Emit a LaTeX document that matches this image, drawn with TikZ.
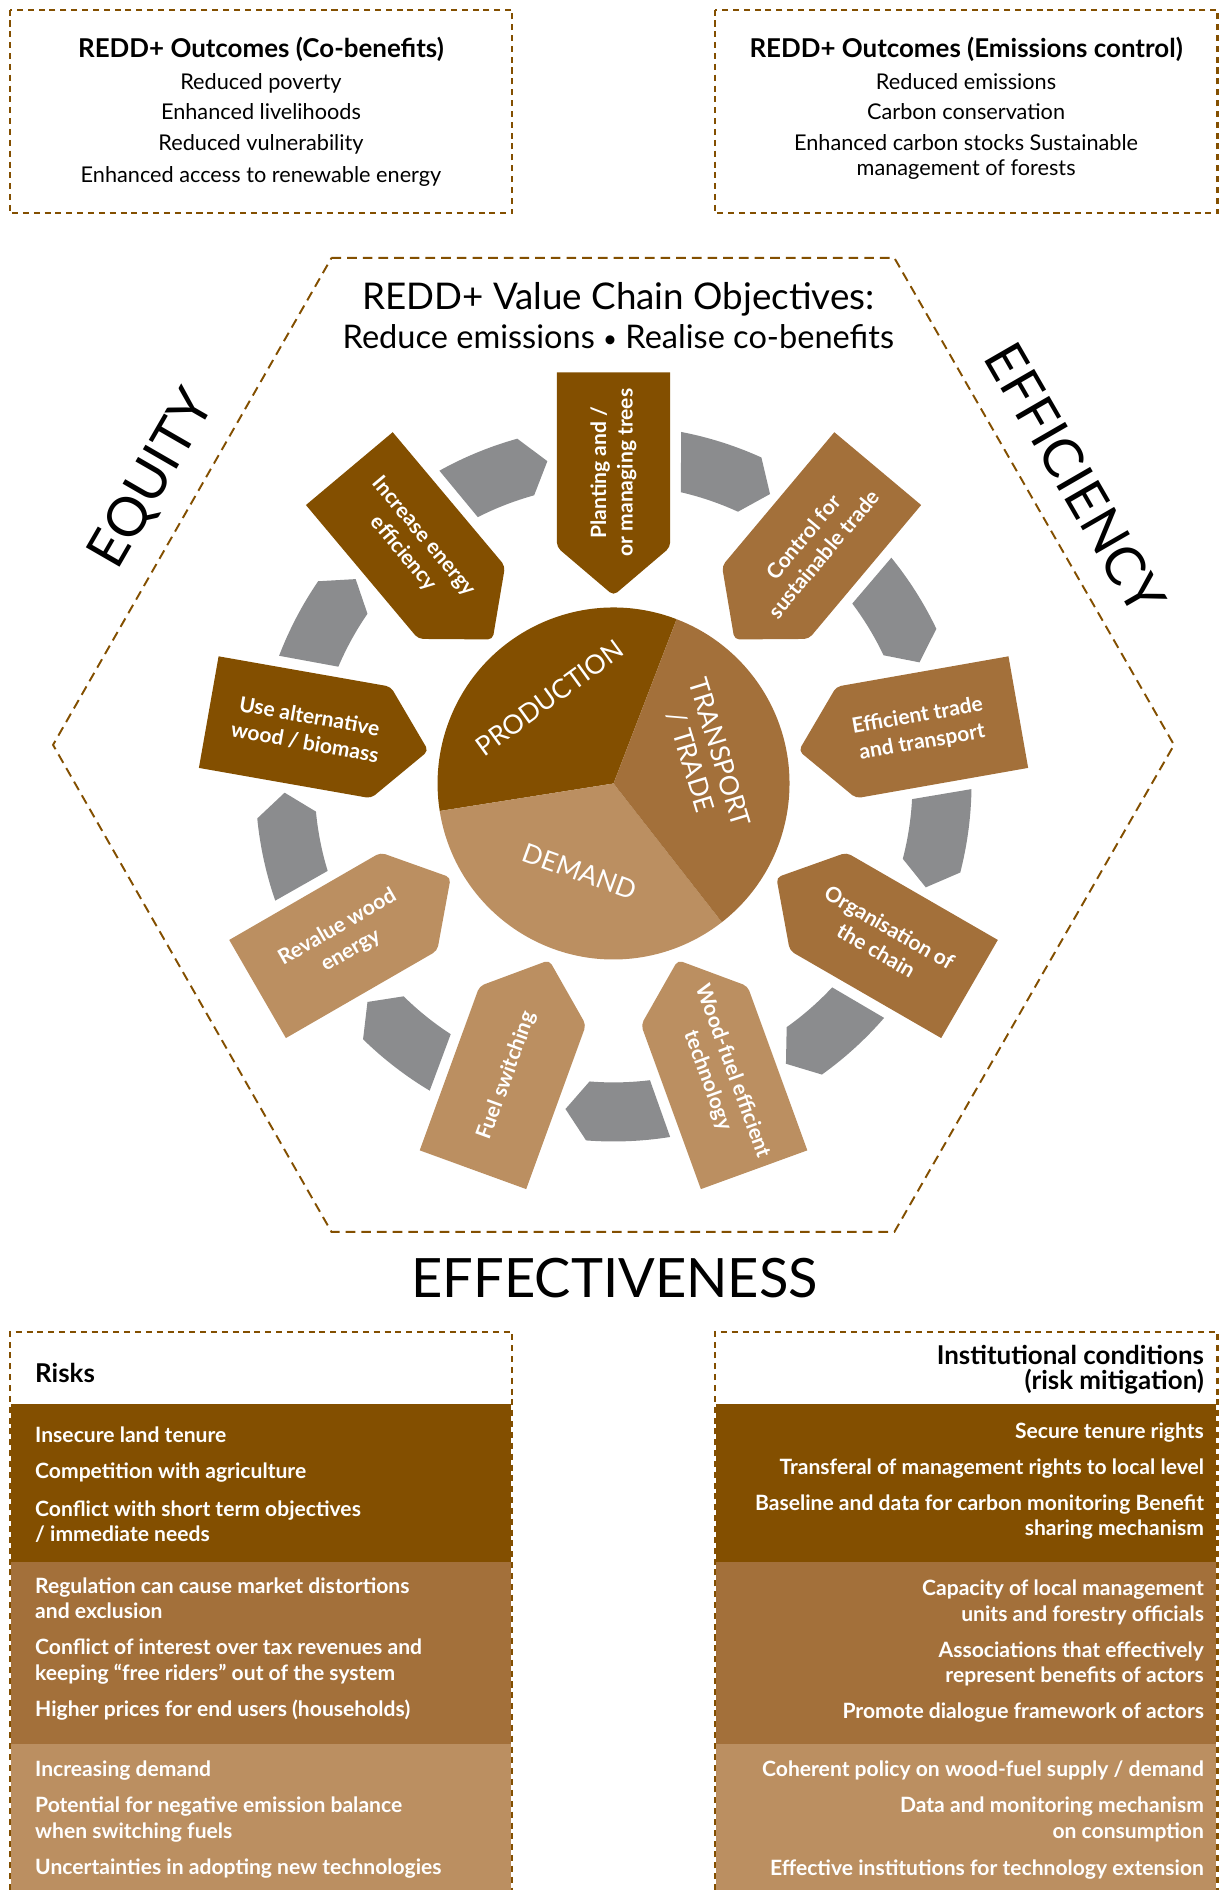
\documentclass[tikz,border=0pt]{standalone}
\usepackage{fontspec}
\setmainfont{Lato}
\usepackage{tikz}

\definecolor{darkwood}{HTML}{834F00}
\definecolor{midwood}{HTML}{A3703A}
\definecolor{lightwood}{HTML}{BB8F61}
\definecolor{arrowgrey}{HTML}{8B8C8E}
\newcommand{\petalfont}{\fontsize{17.5}{22}\selectfont\bfseries}
\newcommand{\bigword}{\fontsize{45}{50}\selectfont}

\begin{document}
\begin{tikzpicture}[x=1pt, y=1pt,
    outline/.style={draw=darkwood, line width=1.8pt, dash pattern=on 5pt off 4pt},
    hexline/.style={draw=darkwood, line width=1.6pt, dash pattern=on 8pt off 5pt},
    boxtitle/.style={font=\fontsize{21.5}{24}\selectfont\bfseries, anchor=base, inner sep=0},
    boxline/.style={font=\fontsize{18}{20}\selectfont, anchor=base, inner sep=0},
    riskline/.style={font=\fontsize{17.5}{19}\selectfont\bfseries, text=white, anchor=base west, inner sep=0},
    mitline/.style={font=\fontsize{17.5}{19}\selectfont\bfseries, text=white, anchor=base east, inner sep=0},
    petaltext/.style={font=\petalfont, text=white, align=center, inner sep=0},
    pietext/.style={font=\fontsize{22}{25}\selectfont, text=white, align=center, inner sep=0}]

    \useasboundingbox (0,0) rectangle (1011,-1568);

    % outcome boxes
    \draw[outline] (8,-8) rectangle (425,-177);
    \draw[outline] (593,-8) rectangle (1010,-177);
    \draw(216.5,-48) node[boxtitle] (cotitle) {REDD+ Outcomes (Co-benefits)};
    \foreach \y/\t [count=\i] in {74/{Reduced poverty}, 99/{Enhanced livelihoods},
        125/{Reduced vulnerability}, 151/{Enhanced access to renewable energy}}
        \draw(216.5,-\y) node[boxline] (co\i) {\t};
    \draw(801.5,-48) node[boxtitle] (emtitle) {REDD+ Outcomes (Emissions control)};
    \foreach \y/\t [count=\i] in {74/{Reduced emissions}, 99/{Carbon conservation},
        125/{Enhanced carbon stocks Sustainable}, 146/{management of forests}}
        \draw(801.5,-\y) node[boxline] (em\i) {\t};

    % hexagon and its three words
    \draw[hexline] (275,-214) -- (742,-214) -- (974,-618) -- (742,-1022)
        -- (275,-1022) -- (44,-618) -- cycle;
    \draw(513,-257) node[anchor=base, font=\fontsize{30.5}{34}\selectfont] (vctitle) {REDD+ Value Chain Objectives:};
    \draw(513,-289) node[anchor=base, font=\fontsize{27}{30}\selectfont] (vcsub)
        {Reduce emissions {\fontsize{20}{22}\selectfont\raisebox{1pt}{\textbullet}} Realise co-benefits};
    \draw(127,-398) node[font=\bigword, rotate=60] (equity) {EQUITY};
    \draw(892,-397) node[font=\bigword, rotate=-60] (efficiency) {EFFICIENCY};
    \draw(510,-1060) node[font=\bigword] (effectiveness) {EFFECTIVENESS};

    % value chain wheel
    \begin{scope}[shift={(509,-650)}]
        \foreach \a in {70,30,...,-250}
            \fill[arrowgrey] (\a+9.1:297) arc[start angle=\a+9.1, end angle=\a-4.4, radius=297]
                -- (\a-8.4:273) -- (\a-4.6:248)
                arc[start angle=\a-4.6, end angle=\a+7, radius=248] -- cycle;

        \foreach \ang/\rot/\col/\txt [count=\i] in {
            90/90/darkwood/{Planting and /\\or managing trees},
            50/50/midwood/{Control for\\sustainable trade},
            10/10/midwood/{Efficient trade\\and transport},
            -30/-30/midwood/{Organisation of\\the chain},
            -70/-70/lightwood/{Wood-fuel efficient\\technology},
            -110/70/lightwood/{Fuel switching},
            -150/30/lightwood/{Revalue wood\\energy},
            170/-10/darkwood/{Use alternative\\wood / biomass},
            130/-50/darkwood/{Increase energy\\efficiency}} {
            \begin{scope}[rotate=\ang-90]
                \fill[\col] (-47,341) -- (47,341) [rounded corners=4pt] -- (47,196)
                    -- (0,156) -- (-47,196) [sharp corners] -- cycle;
            \end{scope}
            \node[petaltext, rotate=\rot] (petal\i) at (\ang:258) {\txt};
        }

        \fill[darkwood] (0,0) -- (69:146) arc[start angle=69, end angle=189, radius=146] -- cycle;
        \fill[lightwood] (0,0) -- (189:146) arc[start angle=189, end angle=308, radius=146] -- cycle;
        \fill[midwood] (0,0) -- (308:146) arc[start angle=308, end angle=429, radius=146] -- cycle;
    \end{scope}
    \draw(456,-579) node[pietext, rotate=36] (production) {PRODUCTION};
    \draw(585,-628) node[pietext, rotate=-73] (transport) {TRANSPORT\\/ TRADE};
    \draw(481,-723) node[pietext, rotate=-20] (demand) {DEMAND};

    % risks
    \fill[darkwood] (9,-1165) rectangle (424,-1296);
    \fill[midwood] (9,-1296) rectangle (424,-1447);
    \fill[lightwood] (9,-1447) rectangle (424,-1568);
    \draw[outline] (8,-1568) -- (8,-1105) -- (425,-1105) -- (425,-1568);
    \draw(29,-1147) node[boxtitle, anchor=base west] (risks) {Risks};
    \foreach \y/\t [count=\i] in {1197/{Insecure land tenure}, 1227/{Competition with agriculture},
        1258/{Conflict with short term objectives}, 1279/{/ immediate needs},
        1322/{Regulation can cause market distortions}, 1343/{and exclusion},
        1373/{Conflict of interest over tax revenues and}, 1394/{keeping “free riders” out of the system},
        1424/{Higher prices for end users (households)},
        1474/{Increasing demand}, 1504/{Potential for negative emission balance},
        1525/{when switching fuels}, 1555/{Uncertainties in adopting new technologies}}
        \draw(29,-\y) node[riskline] (risk\i) {\t};

    % institutional conditions
    \fill[darkwood] (594,-1165) rectangle (1009,-1296);
    \fill[midwood] (594,-1296) rectangle (1009,-1447);
    \fill[lightwood] (594,-1447) rectangle (1009,-1568);
    \draw[outline] (593,-1568) -- (593,-1105) -- (1010,-1105) -- (1010,-1568);
    \draw(999,-1132) node[boxtitle, anchor=base east] (insttitle) {Institutional conditions};
    \draw(999,-1153) node[boxtitle, anchor=base east] (instsub) {(risk mitigation)};
    \foreach \y/\t [count=\i] in {1193/{Secure tenure rights},
        1223/{Transferal of management rights to local level},
        1253/{Baseline and data for carbon monitoring Benefit}, 1274/{sharing mechanism},
        1324/{Capacity of local management}, 1345/{units and forestry officials},
        1375/{Associations that effectively}, 1396/{represent benefits of actors},
        1426/{Promote dialogue framework of actors},
        1474/{Coherent policy on wood-fuel supply / demand},
        1504/{Data and monitoring mechanism}, 1525/{on consumption},
        1556/{Effective institutions for technology extension}}
        \draw(999,-\y) node[mitline] (mit\i) {\t};

\end{tikzpicture}
\end{document}
